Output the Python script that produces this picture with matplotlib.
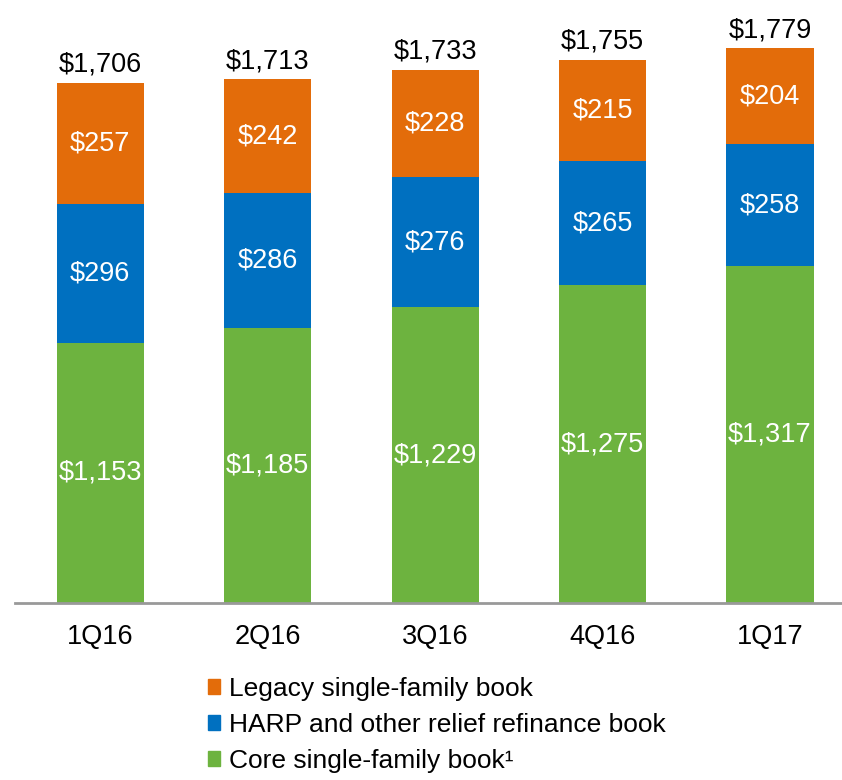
import matplotlib

matplotlib.use("Agg")
import matplotlib.pyplot as plt
from matplotlib.patches import Patch

plt.rcParams["font.family"] = ["Liberation Sans", "DejaVu Sans"]

QUARTERS = ["1Q16", "2Q16", "3Q16", "4Q16", "1Q17"]
CORE = [1153, 1185, 1229, 1275, 1317]
HARP = [296, 286, 276, 265, 258]
LEGACY = [257, 242, 228, 215, 204]
TOTALS = [1706, 1713, 1733, 1755, 1779]

GREEN = "#6DB33F"
BLUE = "#0070C0"
ORANGE = "#E36C0A"
FS = 19.5


def main() -> None:
    fig = plt.figure(figsize=(8.42, 7.8), dpi=100)
    ax = fig.add_axes([15 / 842, 0.227, 1 - 15 / 842, 0.773])

    x = list(range(len(QUARTERS)))
    width = 0.52
    base = 600  # chart axis does not start at zero

    core_h = [c - base for c in CORE]
    ax.bar(x, core_h, width, bottom=base, color=GREEN)
    harp_bottom = CORE
    ax.bar(x, HARP, width, bottom=harp_bottom, color=BLUE)
    legacy_bottom = [c + h for c, h in zip(CORE, HARP)]
    ax.bar(x, LEGACY, width, bottom=legacy_bottom, color=ORANGE)

    for i in x:
        ax.text(i, (base + CORE[i]) / 2, f"${CORE[i]:,}", ha="center",
                va="center", color="white", fontsize=FS)
        ax.text(i, CORE[i] + HARP[i] / 2, f"${HARP[i]:,}", ha="center",
                va="center", color="white", fontsize=FS)
        ax.text(i, legacy_bottom[i] + LEGACY[i] / 2, f"${LEGACY[i]:,}",
                ha="center", va="center", color="white", fontsize=FS)
        ax.annotate(f"${TOTALS[i]:,}", (i, TOTALS[i]), xytext=(0, 8),
                    textcoords="offset points", ha="center", va="baseline",
                    fontsize=FS, color="black")

    ax.set_xlim(-0.51, 4.43)
    ax.set_ylim(base, 1882)
    for side in ("top", "right", "left"):
        ax.spines[side].set_visible(False)
    ax.spines["bottom"].set_color("#999999")
    ax.spines["bottom"].set_linewidth(2)
    ax.set_yticks([])
    ax.set_xticks(x)
    ax.set_xticklabels(QUARTERS, fontsize=FS)
    ax.tick_params(axis="x", length=0, pad=15)

    handles = [
        Patch(color=ORANGE, label="Legacy single-family book"),
        Patch(color=BLUE, label="HARP and other relief refinance book"),
        Patch(color=GREEN, label="Core single-family book\u00b9"),
    ]
    fig.legend(handles=handles, loc="upper left",
               bbox_to_anchor=(208 / 842, 1 - 677 / 780), frameon=False,
               fontsize=19, handlelength=0.46, handleheight=0.5,
               handletextpad=0.35, labelspacing=0.46, borderpad=0,
               borderaxespad=0)

    fig.savefig("out.png", dpi=100)


if __name__ == "__main__":
    main()
